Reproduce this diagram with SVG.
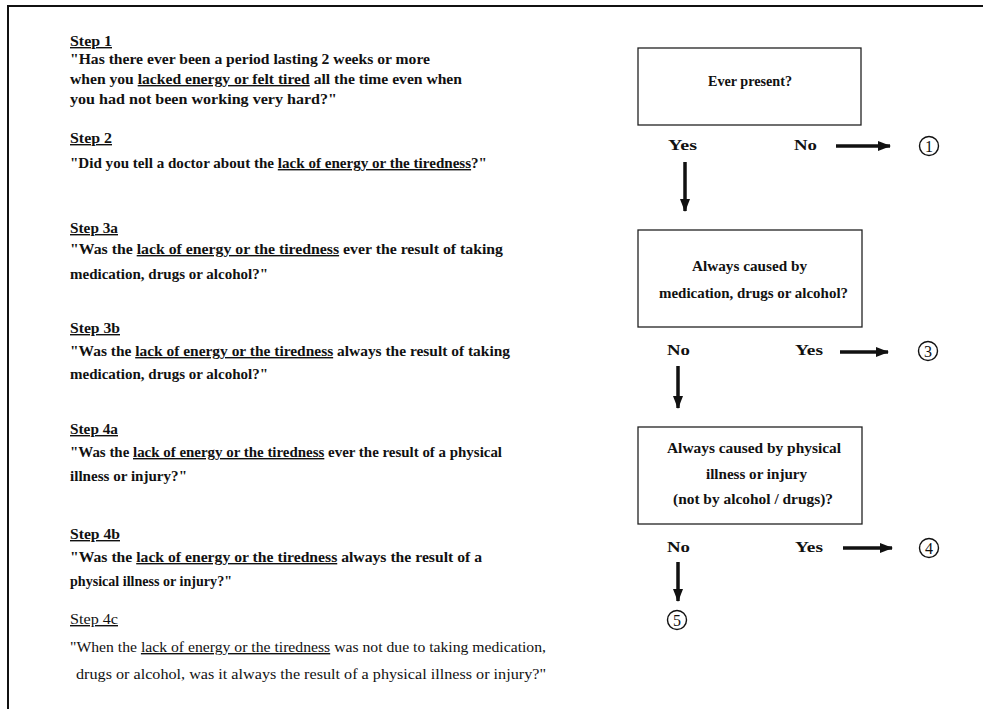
<svg xmlns="http://www.w3.org/2000/svg" width="983" height="709" viewBox="0 0 983 709">
<defs>
<style>
.t{font-family:"Liberation Serif","Times New Roman",serif;font-size:14px;font-weight:bold;fill:#111}
.n{font-weight:normal}
.u{text-decoration:underline}
.box{fill:#fff;stroke:#222;stroke-width:1.3}
.lbl{font-family:"Liberation Serif","Times New Roman",serif;font-size:15px;font-weight:bold;fill:#111}
.arr{stroke:#111;stroke-width:3.5;fill:none}
.circ{fill:none;stroke:#111;stroke-width:1.4}
.dig{font-family:"Liberation Serif","Times New Roman",serif;font-size:16px;fill:#111;text-anchor:middle}
</style>
<marker id="ah" markerUnits="userSpaceOnUse" markerWidth="14" markerHeight="10" refX="12" refY="5" orient="auto">
<path d="M0,0 L13,5 L0,10 Z" fill="#111"/>
</marker>
</defs>
<rect width="983" height="709" fill="#fff"/>
<g id="frame"><path d="M8,709 V6 H983" fill="none" stroke="#111" stroke-width="2"/></g>

<g id="steps">
<text class="t" x="70" y="46"><tspan class="u" textLength="42" lengthAdjust="spacingAndGlyphs">Step 1</tspan></text>
<text class="t" x="70" y="64" textLength="360" lengthAdjust="spacingAndGlyphs">"Has there ever been a period lasting 2 weeks or more</text>
<text class="t" x="70" y="84" textLength="392" lengthAdjust="spacingAndGlyphs">when you <tspan class="u">lacked energy or felt tired</tspan> all the time even when</text>
<text class="t" x="70" y="104" textLength="267" lengthAdjust="spacingAndGlyphs">you had not been working very hard?"</text>

<text class="t" x="70" y="143"><tspan class="u" textLength="42" lengthAdjust="spacingAndGlyphs">Step 2</tspan></text>
<text class="t" x="70" y="168" textLength="417" lengthAdjust="spacingAndGlyphs">"Did you tell a doctor about the <tspan class="u">lack of energy or the tiredness</tspan>?"</text>

<text class="t" x="70" y="233"><tspan class="u" textLength="48" lengthAdjust="spacingAndGlyphs">Step 3a</tspan></text>
<text class="t" x="70" y="254" textLength="433" lengthAdjust="spacingAndGlyphs">"Was the <tspan class="u">lack of energy or the tiredness</tspan> ever the result of taking</text>
<text class="t" x="70" y="279" textLength="198" lengthAdjust="spacingAndGlyphs">medication, drugs or alcohol?"</text>

<text class="t" x="70" y="333"><tspan class="u" textLength="50" lengthAdjust="spacingAndGlyphs">Step 3b</tspan></text>
<text class="t" x="70" y="356" textLength="440" lengthAdjust="spacingAndGlyphs">"Was the <tspan class="u">lack of energy or the tiredness</tspan> always the result of taking</text>
<text class="t" x="70" y="379" textLength="198" lengthAdjust="spacingAndGlyphs">medication, drugs or alcohol?"</text>

<text class="t" x="70" y="434"><tspan class="u" textLength="48" lengthAdjust="spacingAndGlyphs">Step 4a</tspan></text>
<text class="t" x="70" y="457" textLength="432" lengthAdjust="spacingAndGlyphs">"Was the <tspan class="u">lack of energy or the tiredness</tspan> ever the result of a physical</text>
<text class="t" x="70" y="481" textLength="117" lengthAdjust="spacingAndGlyphs">illness or injury?"</text>

<text class="t" x="70" y="539"><tspan class="u" textLength="50" lengthAdjust="spacingAndGlyphs">Step 4b</tspan></text>
<text class="t" x="70" y="562" textLength="412" lengthAdjust="spacingAndGlyphs">"Was the <tspan class="u">lack of energy or the tiredness</tspan> always the result of a</text>
<text class="t" x="70" y="586" textLength="162" lengthAdjust="spacingAndGlyphs">physical illness or injury?"</text>

<text class="t n" x="70" y="624"><tspan class="u" textLength="48" lengthAdjust="spacingAndGlyphs">Step 4c</tspan></text>
<text class="t n" x="70" y="652" textLength="476" lengthAdjust="spacingAndGlyphs">"When the <tspan class="u">lack of energy or the tiredness</tspan> was not due to taking medication,</text>
<text class="t n" x="76" y="679" textLength="470" lengthAdjust="spacingAndGlyphs">drugs or alcohol, was it always the result of a physical illness or injury?"</text>
</g>

<g id="q1">
<rect class="box" x="638" y="48" width="223" height="77"/>
<text class="t" x="708" y="86" textLength="84" lengthAdjust="spacingAndGlyphs">Ever present?</text>
</g>
<g id="q2">
<rect class="box" x="638" y="230" width="224" height="97"/>
<text class="t" x="692" y="271" textLength="115" lengthAdjust="spacingAndGlyphs">Always caused by</text>
<text class="t" x="659" y="298" textLength="189" lengthAdjust="spacingAndGlyphs">medication, drugs or alcohol?</text>
</g>
<g id="q3">
<rect class="box" x="638" y="427" width="224" height="97"/>
<text class="t" x="667" y="453" textLength="174" lengthAdjust="spacingAndGlyphs">Always caused by physical</text>
<text class="t" x="706" y="479" textLength="101" lengthAdjust="spacingAndGlyphs">illness or injury</text>
<text class="t" x="673" y="504" textLength="160" lengthAdjust="spacingAndGlyphs">(not by alcohol / drugs)?</text>
</g>

<g id="labels">
<text class="lbl" x="668" y="150" textLength="29" lengthAdjust="spacingAndGlyphs">Yes</text>
<text class="lbl" x="794" y="150" textLength="23" lengthAdjust="spacingAndGlyphs">No</text>
<text class="lbl" x="667" y="355" textLength="23" lengthAdjust="spacingAndGlyphs">No</text>
<text class="lbl" x="795" y="355" textLength="28" lengthAdjust="spacingAndGlyphs">Yes</text>
<text class="lbl" x="667" y="552" textLength="23" lengthAdjust="spacingAndGlyphs">No</text>
<text class="lbl" x="795" y="552" textLength="28" lengthAdjust="spacingAndGlyphs">Yes</text>
</g>

<g id="o1"><circle class="circ" cx="929" cy="146" r="9.5"/><text class="dig" x="929" y="151.5">1</text></g>
<g id="o3"><circle class="circ" cx="928" cy="351" r="9.5"/><text class="dig" x="928" y="356.5">3</text></g>
<g id="o4"><circle class="circ" cx="929" cy="548" r="9.5"/><text class="dig" x="929" y="553.5">4</text></g>
<g id="o5"><circle class="circ" cx="677" cy="620" r="9.5"/><text class="dig" x="677" y="625.5">5</text></g>

<g id="connectors">
<line class="arr" x1="836" y1="146" x2="890" y2="146" marker-end="url(#ah)"/>
<line class="arr" x1="685" y1="162" x2="685" y2="211" marker-end="url(#ah)"/>
<line class="arr" x1="840" y1="352" x2="888" y2="352" marker-end="url(#ah)"/>
<line class="arr" x1="678" y1="366" x2="678" y2="408" marker-end="url(#ah)"/>
<line class="arr" x1="843" y1="548" x2="892" y2="548" marker-end="url(#ah)"/>
<line class="arr" x1="678" y1="562" x2="678" y2="601" marker-end="url(#ah)"/>
</g>
</svg>
